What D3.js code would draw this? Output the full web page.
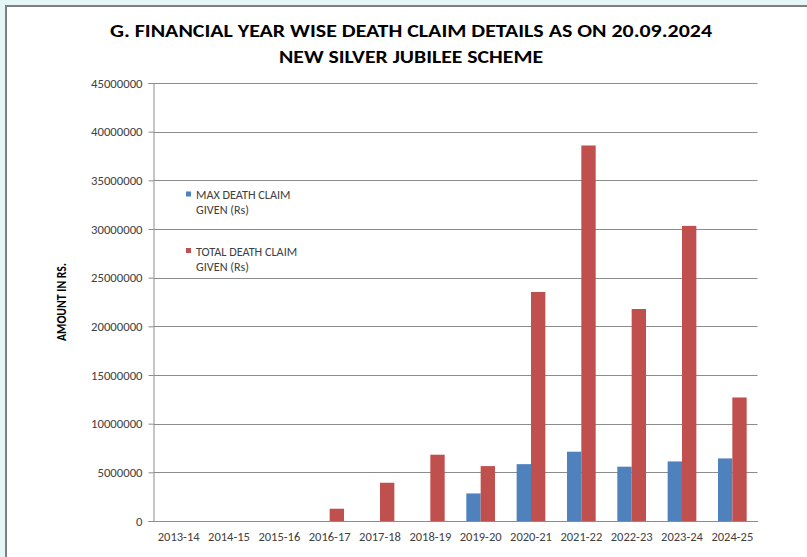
<!DOCTYPE html>
<html><head><meta charset="utf-8">
<script src="https://cdn.jsdelivr.net/npm/d3@7"></script>
<style>
html,body{margin:0;padding:0;background:#e4f6f6;}
svg{display:block;}
</style></head>
<body>
<svg id="chart" width="807" height="557"></svg>
<script>
const categories = ["2013-14","2014-15","2015-16","2016-17","2017-18","2018-19","2019-20","2020-21","2021-22","2022-23","2023-24","2024-25"];
const maxClaim   = [0, 0, 0, 0, 0, 0, 2830000, 5840000, 7120000, 5580000, 6120000, 6430000];
const totalClaim = [0, 0, 0, 1260000, 3930000, 6810000, 5640000, 23530000, 38580000, 21780000, 30320000, 12690000];
const yTicks = [0,5000000,10000000,15000000,20000000,25000000,30000000,35000000,40000000,45000000];
const seriesNames = [["MAX DEATH CLAIM","GIVEN (Rs)"],["TOTAL DEATH CLAIM","GIVEN (Rs)"]];
const colors = ["#4f81bd","#c0504d"];
const titleLines = ["G. FINANCIAL YEAR WISE DEATH CLAIM DETAILS AS ON 20.09.2024","NEW SILVER JUBILEE SCHEME"];

const svg = d3.select("#chart");
const font = "Calibri, Carlito, 'Liberation Sans Narrow', 'DejaVu Sans Condensed', 'Open Sans', sans-serif";

// panel
svg.append("rect").attr("x",6).attr("y",6).attr("width",820).attr("height",570)
  .attr("fill","#ffffff").attr("stroke","#7f7f7f").attr("stroke-width",2);

const m = {left:153.5, right:757.5, top:83, bottom:521};
const x = d3.scaleBand().domain(categories).range([m.left,m.right]).padding(0);
const y = d3.scaleLinear().domain([0,45000000]).range([m.bottom,m.top]);

// gridlines
svg.append("g").selectAll("line").data(yTicks.slice(1)).join("line")
  .attr("x1",m.left).attr("x2",m.right)
  .attr("y1",d=>Math.round(y(d))+0.5).attr("y2",d=>Math.round(y(d))+0.5)
  .attr("stroke","#8c8c8c").attr("stroke-width",1);

// bars
const bw = x.bandwidth()*0.285;
[maxClaim,totalClaim].forEach((vals,si)=>{
  svg.append("g").selectAll("rect").data(categories).join("rect")
    .attr("x",d=>x(d)+x.bandwidth()/2 - bw + si*bw)
    .attr("width",bw)
    .attr("y",(d,i)=>y(vals[i]))
    .attr("height",(d,i)=>y(0)-y(vals[i]))
    .attr("fill",colors[si]);
});

// axes
const yAxis = d3.axisLeft(y).tickValues(yTicks).tickSize(5).tickFormat(d3.format("d"));
const gy = svg.append("g").attr("transform",`translate(${m.left},0)`).call(yAxis);
gy.select(".domain").attr("stroke","#8c8c8c");
gy.selectAll(".tick line").attr("stroke","#8c8c8c");
gy.selectAll("text").attr("font-family",font).attr("font-size",12.7).attr("fill","#404040").attr("x",-11);

const xAxis = d3.axisBottom(x).tickSize(0).tickPadding(11);
const gx = svg.append("g").attr("transform",`translate(0,${m.bottom})`).call(xAxis);
gx.select(".domain").attr("stroke","#8c8c8c");
gx.selectAll("text").attr("font-family",font).attr("font-size",12.5).attr("fill","#404040");

// y title
svg.append("text").attr("transform",`translate(66,${(m.top+m.bottom)/2}) rotate(-90)`)
  .attr("text-anchor","middle").attr("font-family",font).attr("font-weight","bold")
  .attr("font-size",13.5).attr("textLength",78).attr("lengthAdjust","spacingAndGlyphs")
  .attr("fill","#000").text("AMOUNT IN RS.");

// title
const tl = [602, 264];
titleLines.forEach((t,i)=>{
  svg.append("text").attr("x",411).attr("y",37+i*26).attr("text-anchor","middle")
    .attr("font-family",font).attr("font-weight","bold").attr("font-size",19)
    .attr("textLength",tl[i]).attr("lengthAdjust","spacingAndGlyphs")
    .attr("fill","#000").text(t);
});

// legend
seriesNames.forEach((lines,i)=>{
  const ly = 191.5 + i*56.5;
  svg.append("rect").attr("x",186).attr("y",ly).attr("width",5).attr("height",5).attr("fill",colors[i]);
  lines.forEach((l,j)=>{
    svg.append("text").attr("x",196).attr("y",ly+7.5+j*15.2).attr("font-family",font)
      .attr("font-size",12.2).attr("fill","#404040").text(l);
  });
});
</script>
</body></html>
